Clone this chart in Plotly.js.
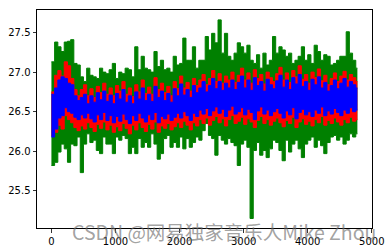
<!DOCTYPE html>
<html>
<head>
<meta charset="utf-8">
<script src="https://cdn.plot.ly/plotly-3.0.1.min.js"></script>
<style>html,body{margin:0;padding:0;background:#fff;}#chart{width:389px;height:252px;}</style>
</head>
<body>
<div id="chart"></div>
<script>
// sample spacing (data units) of the envelope readings
const step = 50;
// green series: local highs / lows
const greenHi = [27.13,27.38,27.32,27.26,27.38,27.39,27.41,27.11,27.09,26.94,
 26.88,27.05,26.96,26.94,26.92,27.05,27.0,26.98,27.03,27.11,26.92,27.0,26.98,
 27.05,27.03,26.94,27.32,27.03,27.2,27.05,27.03,27.0,27.26,27.07,27.15,27.03,27.05,27.0,27.2,27.09,27.11,27.43,27.15,27.15,27.32,27.05,27.15,
 27.15,27.45,27.28,27.49,27.37,27.66,27.24,27.49,27.2,27.15,27.24,27.37,27.32,27.24,27.34,27.15,27.11,27.22,27.05,27.24,27.09,27.15,27.45,27.24,
 27.32,27.28,27.2,27.24,27.11,27.15,27.2,27.32,27.15,27.22,27.11,27.34,27.26,27.15,27.22,27.2,27.09,27.11,27.15,27.2,27.2,27.51,27.24,27.15,27.05];
const greenLo = [25.82,25.86,25.99,26.09,26.03,25.86,26.09,26.07,26.18,25.73,
 26.09,26.22,26.11,26.14,26.01,25.97,26.18,26.09,26.09,25.97,26.18,26.14,26.2,
 26.16,25.97,26.05,25.97,26.16,26.05,26.11,26.05,26.22,26.09,25.9,25.97,26.16,26.2,26.05,26.11,26.05,26.18,26.03,26.16,26.05,26.11,26.18,26.14,
 26.26,26.35,26.2,26.16,25.95,26.2,26.14,26.09,26.16,26.11,26.07,25.82,26.09,26.14,26.05,25.15,26.01,26.11,25.95,26.01,25.92,26.03,26.14,26.11,
 26.01,25.88,26.14,25.99,26.09,26.14,26.03,25.92,26.09,26.14,26.18,26.05,26.14,26.07,25.97,26.11,26.18,26.2,26.14,26.18,26.09,26.14,26.22,26.18,26.22];
// red series
const redHi = [26.75,26.96,27.02,26.95,27.13,27.08,26.92,26.78,26.7,26.78,
 26.84,26.7,26.79,26.68,26.82,26.74,26.86,26.72,26.8,26.7,
 26.83,26.76,26.88,26.72,26.8,26.69,26.84,26.75,26.9,26.73,
 26.81,26.72,26.93,26.78,26.86,26.74,26.82,26.7,26.88,26.79,
 26.95,26.8,26.87,26.76,26.92,26.83,26.9,26.97,26.84,26.92,
 27.02,26.88,26.98,26.86,26.95,26.9,27.0,26.87,26.96,27.05,
 26.9,26.99,26.86,27.03,26.92,26.97,26.85,27.0,26.93,26.88,
 26.98,27.06,26.9,26.99,26.87,27.02,26.94,27.08,26.91,26.97,
 26.86,27.0,26.93,27.04,26.89,26.96,26.84,26.92,26.99,26.88,
 26.95,27.01,26.9,26.97,26.93,26.88];
const redLo = [26.2,26.24,26.33,26.28,26.45,26.4,26.36,26.3,26.26,26.32,
 26.28,26.36,26.3,26.25,26.34,26.29,26.37,26.27,26.33,26.24,
 26.31,26.26,26.35,26.29,26.22,26.33,26.27,26.36,26.3,26.25,
 26.34,26.28,26.37,26.24,26.32,26.29,26.35,26.27,26.31,26.36,
 26.3,26.38,26.33,26.27,26.36,26.32,26.4,26.35,26.42,26.33,
 26.39,26.44,26.36,26.41,26.32,26.4,26.45,26.35,26.38,26.43,
 26.34,26.41,26.37,26.3,26.39,26.44,26.35,26.4,26.33,26.38,
 26.42,26.36,26.31,26.39,26.35,26.43,26.3,26.37,26.41,26.34,
 26.38,26.32,26.4,26.36,26.44,26.33,26.39,26.35,26.42,26.37,
 26.33,26.4,26.36,26.43,26.38,26.4];
// blue series
const blueHi = [26.72,26.8,26.9,26.94,26.92,26.86,26.84,26.7,26.64,26.68,
 26.72,26.6,26.7,26.62,26.74,26.65,26.76,26.63,26.71,26.6,
 26.73,26.66,26.78,26.62,26.7,26.6,26.75,26.66,26.8,26.64,
 26.72,26.63,26.82,26.68,26.76,26.64,26.73,26.62,26.79,26.7,
 26.85,26.71,26.78,26.68,26.83,26.74,26.8,26.88,26.75,26.83,
 26.92,26.79,26.88,26.77,26.86,26.8,26.9,26.78,26.87,26.95,
 26.8,26.9,26.77,26.93,26.83,26.88,26.76,26.91,26.84,26.79,
 26.89,26.96,26.81,26.9,26.78,26.93,26.85,26.97,26.82,26.88,
 26.77,26.91,26.84,26.94,26.8,26.87,26.76,26.83,26.9,26.79,
 26.86,26.92,26.81,26.88,26.84,26.8];
const blueLo = [26.18,26.28,26.42,26.45,26.55,26.5,26.48,26.43,26.4,26.46,
 26.42,26.48,26.41,26.37,26.46,26.4,26.49,26.39,26.45,26.36,
 26.44,26.38,26.47,26.4,26.35,26.45,26.39,26.48,26.42,26.37,
 26.46,26.4,26.49,26.36,26.44,26.41,26.47,26.39,26.43,26.48,
 26.42,26.5,26.45,26.39,26.48,26.44,26.52,26.47,26.54,26.45,
 26.51,26.56,26.48,26.53,26.44,26.52,26.57,26.47,26.5,26.55,
 26.46,26.53,26.49,26.4,26.51,26.56,26.47,26.52,26.45,26.5,
 26.54,26.48,26.42,26.51,26.46,26.55,26.41,26.49,26.53,26.46,
 26.5,26.44,26.52,26.48,26.56,26.45,26.51,26.47,26.54,26.49,
 26.45,26.52,26.48,26.55,26.5,26.52];

const xTicks = [0,1000,2000,3000,4000,5000];
const yTicks = [25.5,26.0,26.5,27.0,27.5];
const watermark = 'CSDN @网易独家音乐人Mike Zhou';

function xs(n){ const a=[]; for(let k=0;k<n;k++) a.push(k*step); a.push((n-1)*step+step/2); return a; }
function ext(v){ return v.concat([v[v.length-1]]); }
function band(hi, lo, color){
  const x = xs(hi.length);
  const upper = {x:x, y:ext(hi), type:'scatter', mode:'lines', line:{color:color, width:1, shape:'hv'}, hoverinfo:'skip'};
  const lower = {x:x, y:ext(lo), type:'scatter', mode:'lines', line:{color:color, width:1, shape:'hv'}, fill:'tonexty', fillcolor:color, hoverinfo:'skip'};
  return [upper, lower];
}
const data = [].concat(band(greenHi, greenLo, 'green'), band(redHi, redLo, 'red'), band(blueHi, blueLo, 'blue'));
const axisCommon = {showgrid:false, zeroline:false, showline:true, linecolor:'#000', linewidth:1, mirror:true,
  ticks:'outside', ticklen:3.5, tickwidth:0.8, tickcolor:'#000', tickfont:{family:'DejaVu Sans', size:10, color:'#000'}};
const layout = {
  width:389, height:252, margin:{l:37, r:17, t:10, b:24},
  paper_bgcolor:'#fff', plot_bgcolor:'#fff', showlegend:false,
  xaxis:Object.assign({}, axisCommon, {range:[-225,5003], tickvals:xTicks, ticktext:xTicks.map(String)}),
  yaxis:Object.assign({}, axisCommon, {range:[25.03,27.785], tickvals:yTicks, ticktext:yTicks.map(v=>v.toFixed(1))}),
  annotations:[{text:watermark, xref:'paper', yref:'paper', x:0.0985, y:-0.015, xanchor:'left', yanchor:'middle',
    showarrow:false, font:{family:'Noto Sans CJK SC', size:19.5, color:'rgba(110,110,110,0.65)'}}]
};
Plotly.newPlot('chart', data, layout, {displayModeBar:false, staticPlot:true});
</script>
</body>
</html>
